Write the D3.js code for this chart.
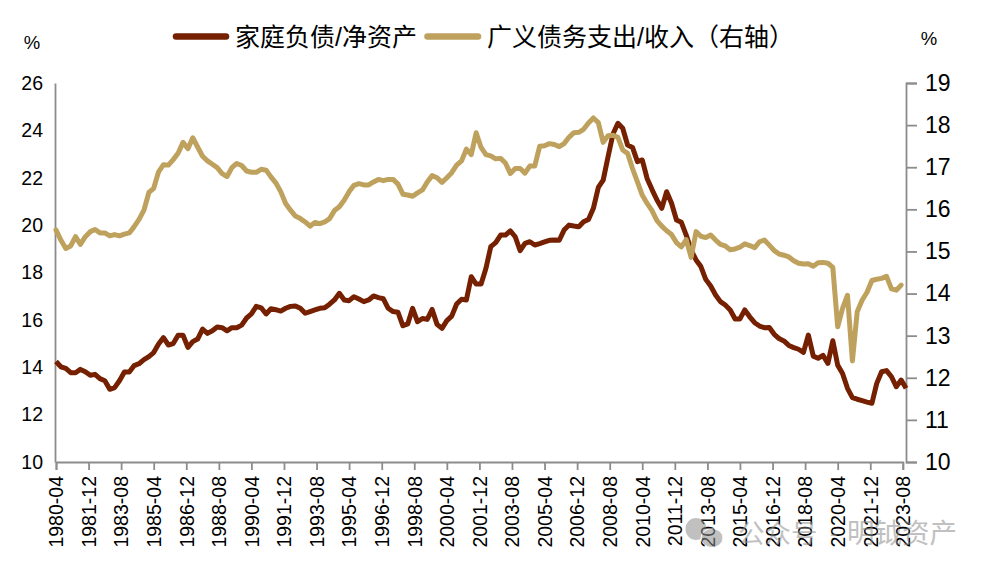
<!DOCTYPE html>
<html lang="zh">
<head>
<meta charset="utf-8">
<script src="https://cdn.jsdelivr.net/npm/d3@7/dist/d3.min.js"></script>
<style>
html,body{margin:0;padding:0;background:#fff;}
svg{display:block;}
text{font-family:"Liberation Sans",Arial,sans-serif;fill:#000;}
.cjk{font-family:"Liberation Sans","Noto Sans CJK SC",sans-serif;}
</style>
</head>
<body>
<div id="chart"></div>
<script>
const startMonth = "1980-04";
const tickLabels = ["1980-04","1981-12","1983-08","1985-04","1986-12","1988-08","1990-04","1991-12","1993-08","1995-04","1996-12","1998-08","2000-04","2001-12","2003-08","2005-04","2006-12","2008-08","2010-04","2011-12","2013-08","2015-04","2016-12","2018-08","2020-04","2021-12","2023-08"];
const leftTicks = [10,12,14,16,18,20,22,24,26];
const rightTicks = [10,11,12,13,14,15,16,17,18,19];
const seriesNames = ["家庭负债/净资产","广义债务支出/收入（右轴）"];
const debtToNetWorth = [
14.24,14.02,13.95,13.77,13.77,13.91,13.81,13.66,13.70,13.52,13.43,13.07,13.14,13.43,13.80,13.80,14.07,14.15,14.32,14.45,
14.62,14.98,15.25,14.94,15.00,15.35,15.35,14.84,15.08,15.19,15.61,15.43,15.54,15.70,15.67,15.54,15.67,15.67,15.78,16.08,
16.25,16.57,16.51,16.25,16.47,16.43,16.37,16.49,16.57,16.59,16.49,16.28,16.35,16.42,16.49,16.51,16.66,16.84,17.12,16.84,
16.81,16.98,16.88,16.77,16.84,17.01,16.94,16.89,16.49,16.35,16.32,15.75,15.83,16.49,15.92,16.06,16.02,16.44,15.81,15.64,
15.97,16.16,16.67,16.87,16.84,17.82,17.51,17.51,18.17,19.09,19.26,19.58,19.58,19.76,19.51,18.92,19.23,19.30,19.16,19.22,
19.29,19.36,19.37,19.36,19.79,20.00,19.96,19.93,20.14,20.24,20.71,21.59,21.90,22.89,23.85,24.30,24.09,23.38,23.28,22.68,
22.75,21.97,21.50,21.06,20.71,21.41,20.92,20.22,20.12,19.58,18.95,18.53,18.25,17.71,17.43,17.05,16.77,16.63,16.42,16.04,
16.04,16.42,16.13,15.88,15.74,15.67,15.68,15.39,15.21,15.11,14.92,14.83,14.76,14.63,15.36,14.47,14.38,14.50,14.16,15.12,
14.09,13.74,13.11,12.72,12.65,12.59,12.53,12.48,13.32,13.81,13.86,13.60,13.18,13.46,13.11];
const debtServiceToIncome = [
15.51,15.27,15.07,15.13,15.35,15.17,15.35,15.47,15.52,15.44,15.44,15.37,15.40,15.37,15.41,15.44,15.59,15.76,15.98,16.40,
16.50,16.89,17.06,17.05,17.18,17.33,17.59,17.44,17.70,17.48,17.26,17.15,17.07,16.99,16.85,16.78,16.99,17.09,17.04,16.91,
16.88,16.88,16.95,16.93,16.77,16.63,16.42,16.14,15.98,15.84,15.78,15.70,15.60,15.69,15.66,15.70,15.78,15.97,16.06,16.22,
16.42,16.57,16.61,16.58,16.58,16.65,16.71,16.68,16.71,16.71,16.60,16.36,16.34,16.31,16.39,16.46,16.65,16.80,16.75,16.64,
16.75,16.87,17.05,17.15,17.43,17.30,17.82,17.47,17.30,17.27,17.20,17.21,17.10,16.85,16.97,16.97,16.86,17.03,17.03,17.50,
17.51,17.56,17.54,17.49,17.56,17.71,17.82,17.83,17.90,18.05,18.17,18.06,17.59,17.75,17.76,17.71,17.41,17.33,16.97,16.65,
16.34,16.14,15.97,15.73,15.60,15.49,15.40,15.21,15.11,15.28,14.86,15.47,15.36,15.33,15.39,15.27,15.17,15.13,15.04,15.06,
15.10,15.18,15.14,15.09,15.23,15.27,15.15,15.02,14.94,14.91,14.87,14.78,14.72,14.70,14.71,14.65,14.73,14.74,14.72,14.62,
13.21,13.65,13.96,12.40,13.57,13.84,14.03,14.31,14.34,14.36,14.41,14.11,14.08,14.20];
const colors = {debt:"#752000", service:"#BFA15E", axis:"#8c8c8c"};

const width = 989, height = 573;
const frame = {left:55, right:906, top:83, bottom:462};
const parseMonth = d3.timeParse("%Y-%m");
const t0 = parseMonth(startMonth);
const dateAt = i => d3.timeMonth.offset(t0, i * 3);
const tickDates = tickLabels.map(parseMonth);

const x = d3.scaleTime()
  .domain([tickDates[0], tickDates[tickDates.length - 1]])
  .range([56, 902.8]);
const yL = d3.scaleLinear().domain([10, 26]).range([frame.bottom, frame.top]);
const yR = d3.scaleLinear().domain([10, 19]).range([frame.bottom, frame.top]);

const svg = d3.select("#chart").append("svg").attr("width", width).attr("height", height);

// axes
const axisLeft = d3.axisLeft(yL).tickValues(leftTicks).tickSize(0).tickPadding(12).tickFormat(d3.format("d"));
const axisRight = d3.axisRight(yR).tickValues(rightTicks).tickSize(11).tickPadding(8).tickFormat(d3.format("d"));
const axisBottom = d3.axisBottom(x).tickValues(tickDates).tickSize(8).tickFormat(d3.timeFormat("%Y-%m"));

const gL = svg.append("g").attr("transform", `translate(${frame.left},0)`).call(axisLeft);
const gR = svg.append("g").attr("transform", `translate(${frame.right},0)`).call(axisRight);
const gB = svg.append("g").attr("transform", `translate(0,${frame.bottom})`).call(axisBottom);
[gL, gR, gB].forEach(g => {
  g.attr("font-family", null).attr("font-size", null);
  g.selectAll("path.domain").attr("stroke", colors.axis).attr("stroke-width", 1.8);
  g.selectAll(".tick line").attr("stroke", colors.axis).attr("stroke-width", 1.8);
  g.selectAll("text").attr("fill", "#000");
});
gL.selectAll("text").style("font-size", "19.5px");
gR.selectAll("text").style("font-size", "23px");
gB.selectAll("text").style("font-size", "19.5px")
  .attr("transform", "rotate(-90)").attr("text-anchor", "end").attr("dy", "0.35em").attr("x", -14).attr("y", 0);

// lines
const lineDebt = d3.line().x((d, i) => x(dateAt(i))).y(d => yL(d)).curve(d3.curveLinear);
const lineService = d3.line().x((d, i) => x(dateAt(i))).y(d => yR(d)).curve(d3.curveLinear);
svg.append("path").datum(debtToNetWorth).attr("d", lineDebt).attr("fill", "none")
  .attr("stroke", colors.debt).attr("stroke-width", 5).attr("stroke-linejoin", "round").attr("stroke-linecap", "butt");
svg.append("path").datum(debtServiceToIncome).attr("d", lineService).attr("fill", "none")
  .attr("stroke", colors.service).attr("stroke-width", 5).attr("stroke-linejoin", "round").attr("stroke-linecap", "round");

// legend
const legend = [
  {name:seriesNames[0], color:colors.debt, x1:176, x2:226, tx:235},
  {name:seriesNames[1], color:colors.service, x1:427.5, x2:478, tx:487}
];
legend.forEach(l => {
  svg.append("line").attr("x1", l.x1).attr("x2", l.x2).attr("y1", 36.5).attr("y2", 36.5)
    .attr("stroke", l.color).attr("stroke-width", 6.5).attr("stroke-linecap", "round");
  svg.append("text").attr("class", "cjk").attr("x", l.tx).attr("y", 36.5).attr("dy", "0.36em")
    .style("font-size", "25px").text(l.name);
});

// units
svg.append("text").attr("x", 32).attr("y", 42).attr("dy", "0.36em").attr("text-anchor", "middle").style("font-size", "18.5px").text("%");
svg.append("text").attr("x", 929).attr("y", 38).attr("dy", "0.36em").attr("text-anchor", "middle").style("font-size", "18.5px").text("%");

// watermark
const wm = svg.append("g").attr("opacity", 0.55);
wm.append("ellipse").attr("cx", 696).attr("cy", 529).attr("rx", 10.5).attr("ry", 11).attr("fill", "#8e8e8e");
wm.append("ellipse").attr("cx", 712).attr("cy", 538).attr("rx", 11).attr("ry", 9.5).attr("fill", "#8e8e8e").attr("stroke", "#fff").attr("stroke-width", 1);
const wmText = [{t:"公众号", x:738, s:26.5}, {t:"-", x:830, s:22}, {t:"明钺资产", x:847, s:27.5}];
wmText.forEach(w => {
  wm.append("text").attr("class", "cjk").attr("x", w.x).attr("y", 533).attr("dy", "0.36em")
    .style("font-size", w.s + "px").style("fill", "#8e8e8e").text(w.t);
});
</script>
</body>
</html>
